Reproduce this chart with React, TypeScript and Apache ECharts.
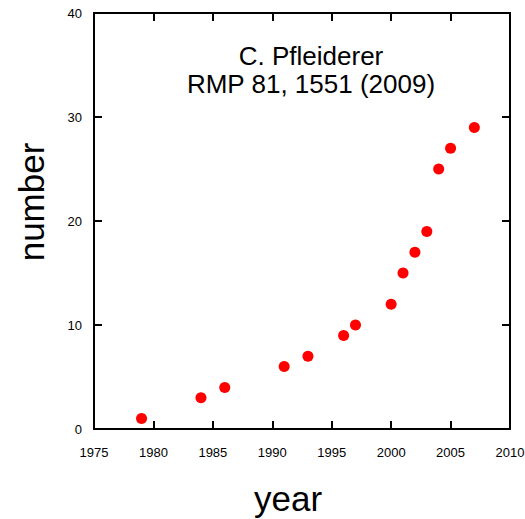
import React, { useEffect, useRef } from "react";
import * as echarts from "echarts";

const years = [1979, 1984, 1986, 1991, 1993, 1996, 1997, 2000, 2001, 2002, 2003, 2004, 2005, 2007];
const counts = [1, 3, 4, 6, 7, 9, 10, 12, 15, 17, 19, 25, 27, 29];
const titleLines = ["C. Pfleiderer", "RMP 81, 1551 (2009)"];
const xName = "year";
const yName = "number";

const FONT = "'Liberation Sans', Arial, Helvetica, sans-serif";

export default function App() {
  const ref = useRef<HTMLDivElement>(null);
  useEffect(() => {
    if (!ref.current) return;
    const chart = echarts.init(ref.current, null, { renderer: "svg" });
    const data = years.map((y, i) => [y, counts[i]]);
    const axisLine = { show: true, onZero: false, lineStyle: { color: "#000", width: 2 } };
    const axisTick = { show: true, inside: true, length: 8, lineStyle: { color: "#000", width: 2 } };
    chart.setOption({
      animation: false,
      backgroundColor: "#fff",
      textStyle: { fontFamily: FONT },
      grid: {
        left: 94,
        top: 13,
        width: 416,
        height: 416,
        containLabel: false,
        outerBoundsMode: "none",
      },
      xAxis: [
        {
          type: "value",
          min: 1975,
          max: 2010,
          interval: 5,
          axisLine,
          axisTick,
          splitLine: { show: false },
          axisLabel: {
            color: "#000",
            fontSize: 13,
            fontFamily: FONT,
            margin: 17,
            formatter: (v: number) => String(v),
          },
        },
        {
          type: "value",
          position: "top",
          min: 1975,
          max: 2010,
          interval: 5,
          axisLine,
          axisTick,
          splitLine: { show: false },
          axisLabel: { show: false },
        },
      ],
      yAxis: [
        {
          type: "value",
          min: 0,
          max: 40,
          interval: 10,
          axisLine,
          axisTick,
          splitLine: { show: false },
          axisLabel: { color: "#000", fontSize: 13, fontFamily: FONT, margin: 12 },
        },
        {
          type: "value",
          position: "right",
          min: 0,
          max: 40,
          interval: 10,
          axisLine,
          axisTick,
          splitLine: { show: false },
          axisLabel: { show: false },
        },
      ],
      series: [
        {
          type: "scatter",
          data,
          symbol: "circle",
          symbolSize: 11,
          itemStyle: { color: "#ff0000", opacity: 1 },
        },
      ],
      graphic: [
        {
          type: "text",
          x: 311,
          y: 56,
          style: {
            text: titleLines[0],
            font: `26px ${FONT}`,
            fill: "#000",
            align: "center",
            verticalAlign: "middle",
          },
        },
        {
          type: "text",
          x: 311,
          y: 84,
          style: {
            text: titleLines[1],
            font: `26px ${FONT}`,
            fill: "#000",
            align: "center",
            verticalAlign: "middle",
          },
        },
        {
          type: "text",
          x: 288,
          y: 498,
          style: {
            text: xName,
            font: `35px ${FONT}`,
            fill: "#000",
            align: "center",
            verticalAlign: "middle",
          },
        },
        {
          type: "text",
          x: 31,
          y: 202,
          rotation: Math.PI / 2,
          style: {
            text: yName,
            font: `35px ${FONT}`,
            fill: "#000",
            align: "center",
            verticalAlign: "middle",
          },
        },
      ],
    });
    return () => chart.dispose();
  }, []);
  return <div ref={ref} style={{ width: 525, height: 519, position: "absolute", left: 0, top: 0 }} />;
}
